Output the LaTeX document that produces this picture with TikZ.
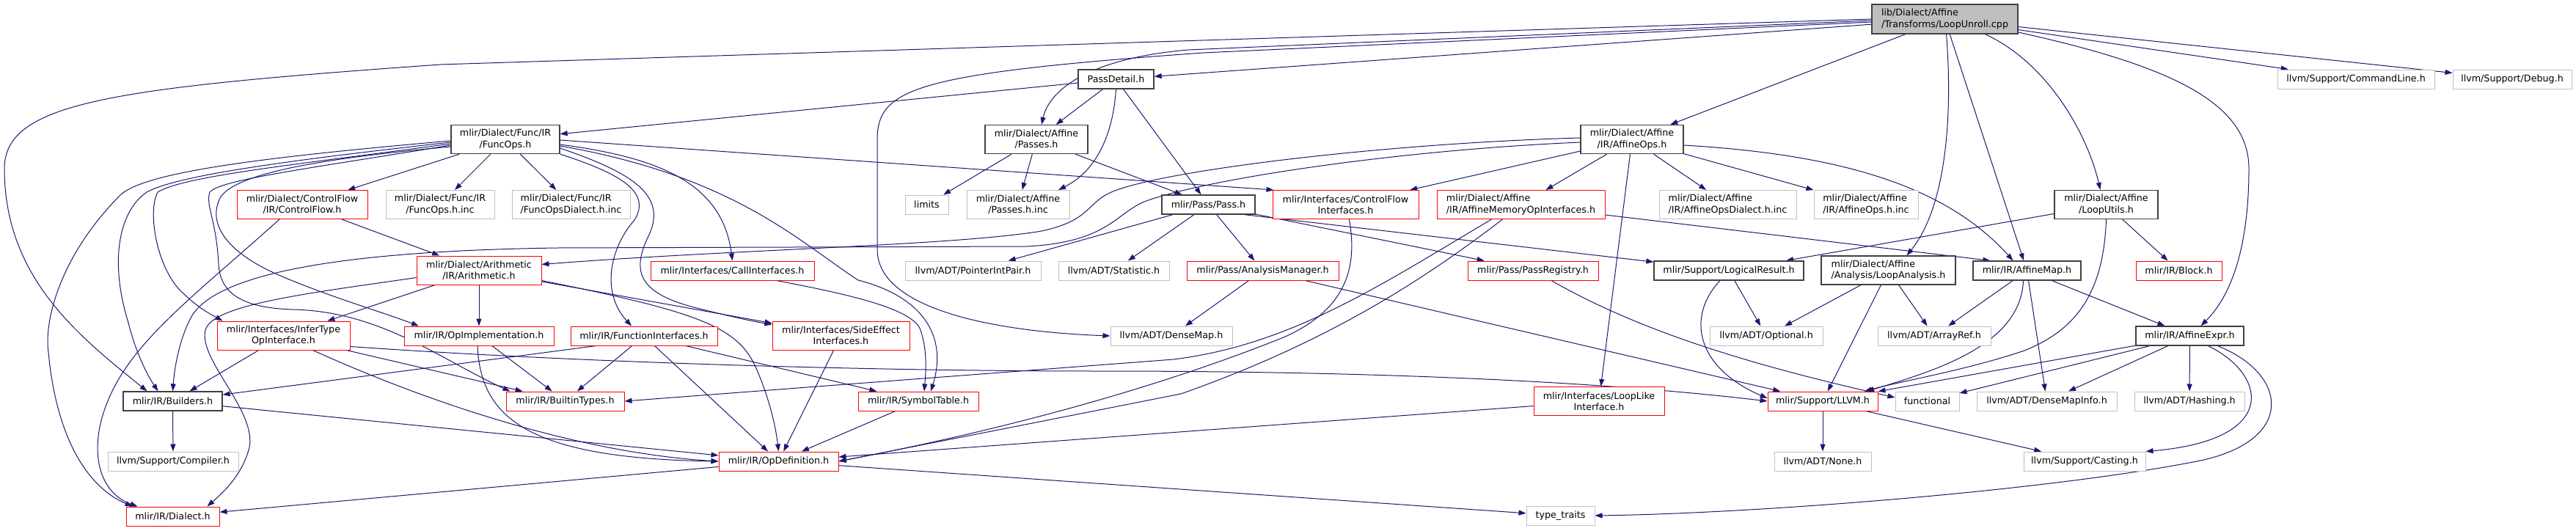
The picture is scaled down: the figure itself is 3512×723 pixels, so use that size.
\documentclass[tikz,border=0pt]{standalone}
\usepackage{fontspec}
\setmainfont{DejaVu Sans}
\usetikzlibrary{arrows.meta}
\definecolor{edgeblue}{HTML}{191970}
\definecolor{boxgray}{HTML}{BFBFBF}
\definecolor{boxdark}{HTML}{404040}
\definecolor{boxred}{HTML}{FF0000}
\pgfdeclarelayer{edges}
\pgfsetlayers{edges,main}

\begin{document}
\begin{tikzpicture}[x=1pt,y=-1pt]
        \tikzset{
          file/.style={rectangle, draw, fill=white, inner sep=0pt, align=center,
            minimum height=26pt, font=\fontsize{12.7}{15.2}\selectfont},
          tall/.style={minimum height=39pt},
          redfile/.style={file, draw=boxred, line width=1pt},
          grayfile/.style={file, draw=boxgray, line width=1pt},
          blackfile/.style={file, draw=boxdark, line width=1.3pt},
          rootfile/.style={blackfile, fill=boxgray},
          incl/.style={draw=edgeblue, line width=1pt, -{Triangle[length=10pt,width=7pt]}}
        }
        \useasboundingbox (0,0) rectangle (3512,723);
        \node[rootfile, align=left, minimum width=199pt, minimum height=40pt] (root) at (2651.5,26) {lib/Dialect/Affine\\/Transforms/LoopUnroll.cpp};
        \node[blackfile, minimum width=103pt] (passdetail) at (1521.5,108) {PassDetail.h};
        \node[grayfile, minimum width=214pt] (cmdline) at (3212,108) {llvm/Support/CommandLine.h};
        \node[grayfile, minimum width=162pt] (debug) at (3425,108) {llvm/Support/Debug.h};
        \node[blackfile, tall, minimum width=148pt] (funcops) at (689,190) {mlir/Dialect/Func/IR\\/FuncOps.h};
        \node[blackfile, tall, minimum width=140pt] (affpasses) at (1413,190) {mlir/Dialect/Affine\\/Passes.h};
        \node[blackfile, tall, minimum width=140pt] (affineops) at (2225,190) {mlir/Dialect/Affine\\/IR/AffineOps.h};
        \node[redfile, tall, minimum width=178pt] (controlflow) at (412,279) {mlir/Dialect/ControlFlow\\/IR/ControlFlow.h};
        \node[grayfile, tall, minimum width=148pt] (funcopsinc) at (600,279) {mlir/Dialect/Func/IR\\/FuncOps.h.inc};
        \node[grayfile, tall, align=left, minimum width=161pt] (funcopsdialinc) at (778.5,279) {mlir/Dialect/Func/IR\\/FuncOpsDialect.h.inc};
        \node[grayfile, minimum width=59pt] (limits) at (1263.5,279) {limits};
        \node[grayfile, tall, minimum width=140pt] (passesinc) at (1388,279) {mlir/Dialect/Affine\\/Passes.h.inc};
        \node[blackfile, minimum width=127pt] (pass) at (1647.5,279) {mlir/Pass/Pass.h};
        \node[redfile, tall, minimum width=199pt] (cfinterfaces) at (1834.5,279) {mlir/Interfaces/ControlFlow\\Interfaces.h};
        \node[redfile, tall, align=left, minimum width=229pt] (affmemop) at (2073.5,279) {mlir/Dialect/Affine\\/IR/AffineMemoryOpInterfaces.h};
        \node[grayfile, tall, align=left, minimum width=187pt] (affopsdialinc) at (2355.5,279) {mlir/Dialect/Affine\\/IR/AffineOpsDialect.h.inc};
        \node[grayfile, tall, align=left, minimum width=142pt] (affopsinc) at (2544,279) {mlir/Dialect/Affine\\/IR/AffineOps.h.inc};
        \node[blackfile, tall, minimum width=141pt] (looputils) at (2871.5,279) {mlir/Dialect/Affine\\/LoopUtils.h};
        \node[redfile, tall, minimum width=170pt] (arith) at (653,368.5) {mlir/Dialect/Arithmetic\\/IR/Arithmetic.h};
        \node[redfile, minimum width=223pt] (callif) at (998.5,369) {mlir/Interfaces/CallInterfaces.h};
        \node[grayfile, minimum width=185pt] (ptrintpair) at (1326.5,369) {llvm/ADT/PointerIntPair.h};
        \node[grayfile, minimum width=151pt] (statistic) at (1518.5,369) {llvm/ADT/Statistic.h};
        \node[redfile, minimum width=207pt] (analysismgr) at (1721.5,369) {mlir/Pass/AnalysisManager.h};
        \node[redfile, minimum width=178pt] (passregistry) at (2090,369) {mlir/Pass/PassRegistry.h};
        \node[blackfile, minimum width=204pt] (logicalresult) at (2357,369) {mlir/Support/LogicalResult.h};
        \node[blackfile, tall, align=left, minimum width=183pt] (loopanalysis) at (2574.5,368.5) {mlir/Dialect/Affine\\/Analysis/LoopAnalysis.h};
        \node[blackfile, minimum width=147pt] (affinemap) at (2763.5,369) {mlir/IR/AffineMap.h};
        \node[redfile, minimum width=117pt] (block) at (2970.5,369) {mlir/IR/Block.h};
        \node[redfile, tall, minimum width=181pt] (infertype) at (386.5,457.5) {mlir/Interfaces/InferType\\OpInterface.h};
        \node[redfile, minimum width=204pt] (opimpl) at (653,458) {mlir/IR/OpImplementation.h};
        \node[redfile, minimum width=200pt] (funcif) at (878,458) {mlir/IR/FunctionInterfaces.h};
        \node[redfile, tall, minimum width=187pt] (sideeffect) at (1146.5,457.5) {mlir/Interfaces/SideEffect\\Interfaces.h};
        \node[grayfile, minimum width=166pt] (densemap) at (1597,458) {llvm/ADT/DenseMap.h};
        \node[grayfile, minimum width=154pt] (optional) at (2408,458) {llvm/ADT/Optional.h};
        \node[grayfile, minimum width=154pt] (arrayref) at (2637,458) {llvm/ADT/ArrayRef.h};
        \node[blackfile, minimum width=147pt] (affineexpr) at (2985.5,458) {mlir/IR/AffineExpr.h};
        \node[blackfile, minimum width=135pt] (builders) at (235.5,547) {mlir/IR/Builders.h};
        \node[redfile, minimum width=161pt] (builtintypes) at (770.5,547) {mlir/IR/BuiltinTypes.h};
        \node[redfile, minimum width=164pt] (symboltable) at (1252,547) {mlir/IR/SymbolTable.h};
        \node[redfile, tall, minimum width=178pt] (looplike) at (2180,547) {mlir/Interfaces/LoopLike\\Interface.h};
        \node[redfile, minimum width=150pt] (llvm) at (2485,547) {mlir/Support/LLVM.h};
        \node[grayfile, minimum width=87pt] (functional) at (2627.5,547) {functional};
        \node[grayfile, minimum width=191pt] (densemapinfo) at (2790.5,547) {llvm/ADT/DenseMapInfo.h};
        \node[grayfile, minimum width=150pt] (hashing) at (2985,547) {llvm/ADT/Hashing.h};
        \node[grayfile, minimum width=178pt] (compiler) at (236,629) {llvm/Support/Compiler.h};
        \node[redfile, minimum width=163pt] (opdef) at (1061.5,629) {mlir/IR/OpDefinition.h};
        \node[grayfile, minimum width=132pt] (adtnone) at (2485,629) {llvm/ADT/None.h};
        \node[grayfile, minimum width=166pt] (casting) at (2842,629) {llvm/Support/Casting.h};
        \node[redfile, minimum width=127pt] (dialect) at (235.5,704) {mlir/IR/Dialect.h};
        \node[grayfile, minimum width=93pt] (typetraits) at (2127.5,703) {type\_traits};
        \begin{pgfonlayer}{edges}
        \draw[incl] (root.west) -- (600,88) .. controls (150,120) and (6,140) .. (6,230) .. controls (6,380) and (110,460) .. ([xshift=-35pt]builders.north);
        \draw[incl] (root) -- (passdetail);
        \draw[incl] ([yshift=-2pt]root.west) -- (1620,68) .. controls (1480,80) and (1430,125) .. ([xshift=7pt]affpasses.north);
        \draw[incl] ([yshift=-4pt]root.west) -- (1640,72) .. controls (1250,100) and (1196,120) .. (1196,190) -- (1196,340) .. controls (1196,420) and (1350,452) .. (densemap.west);
        \draw[incl] (root) -- (affineops);
        \draw[incl] ([xshift=2pt]root.south) .. controls (2662,150) and (2655,280) .. ([xshift=25pt]loopanalysis.north);
        \draw[incl] (root) -- (affinemap);
        \draw[incl] ([xshift=55pt]root.south) .. controls (2790,85) and (2845,180) .. ([xshift=-8pt]looputils.north);
        \draw[incl] ([yshift=-18pt]root.east) .. controls (2960,90) and (3066,140) .. (3066,230) .. controls (3066,330) and (3045,400) .. ([xshift=15pt]affineexpr.north);
        \draw[incl] (root) -- (cmdline);
        \draw[incl] (root) -- (debug);
        \draw[incl] (passdetail) -- (funcops);
        \draw[incl] (passdetail) -- (affpasses);
        \draw[incl] (passdetail.south) .. controls (1518,175) and (1500,230) .. ([xshift=55pt]passesinc.north);
        \draw[incl] (passdetail) -- (pass);
        \draw[incl] (affpasses) -- (limits);
        \draw[incl] (affpasses) -- (passesinc);
        \draw[incl] (affpasses) -- (pass);
        \draw[incl] (funcops) -- (controlflow);
        \draw[incl] (funcops) -- (funcopsinc);
        \draw[incl] (funcops) -- (funcopsdialinc);
        \draw[incl] ([yshift=-2pt]funcops.west) .. controls (350,215) and (200,235) .. (165,265) .. controls (80,350) and (60,440) .. (66,480) .. controls (75,580) and (110,660) .. ([xshift=-55pt]dialect.north);
        \draw[incl] ([yshift=-4pt]funcops.west) .. controls (380,220) and (240,240) .. (200,262) .. controls (160,290) and (150,360) .. (175,440) .. controls (185,480) and (200,510) .. ([xshift=-20pt]builders.north);
        \draw[incl] ([yshift=-6pt]funcops.west) .. controls (400,225) and (250,240) .. (215,262) .. controls (200,290) and (215,370) .. (250,400) .. controls (270,420) and (290,430) .. ([xshift=-83pt]infertype.north);
        \draw[incl] ([yshift=-8pt]funcops.west) .. controls (420,230) and (300,245) .. (286,262) .. controls (280,280) and (295,300) .. (298,360) .. controls (300,400) and (330,420) .. (400,422) .. controls (520,425) and (600,490) .. ([xshift=-75pt]builtintypes.north);
        \draw[incl] ([yshift=-10pt]funcops.west) .. controls (450,215) and (320,235) .. (300,270) .. controls (285,300) and (300,340) .. (380,375) .. controls (450,405) and (520,425) .. ([xshift=-82pt]opimpl.north);
        \draw[incl] ([yshift=-1pt]funcops.east) -- ([xshift=2pt]cfinterfaces.north west);
        \draw[incl] ([yshift=-7pt]funcops.east) .. controls (900,215) and (985,250) .. (callif.north);
        \draw[incl] ([yshift=-9pt]funcops.east) .. controls (1000,240) and (1090,330) .. (1170,382) .. controls (1260,405) and (1292,460) .. ([xshift=17pt]symboltable.north);
        \draw[incl] ([yshift=-12pt]funcops.east) .. controls (860,235) and (910,265) .. (885,320) .. controls (860,370) and (870,400) .. (950,420) .. controls (990,430) and (1020,437) .. ([yshift=15pt]sideeffect.west);
        \draw[incl] (funcops.south east) .. controls (840,235) and (890,260) .. (865,300) .. controls (830,340) and (820,400) .. ([xshift=-17pt]funcif.north);
        \draw[incl] (controlflow) -- (arith);
        \draw[incl] ([xshift=-31pt]controlflow.south) .. controls (280,390) and (200,450) .. (160,520) .. controls (115,600) and (130,670) .. ([xshift=-48pt]dialect.north);
        \draw[incl] (arith) -- (infertype);
        \draw[incl] (arith) -- (opimpl);
        \draw[incl] (arith) -- (sideeffect);
        \draw[incl] ([yshift=-10pt]arith.west) .. controls (420,400) and (290,415) .. (280,450) .. controls (270,490) and (350,560) .. (340,610) .. controls (330,650) and (300,675) .. ([xshift=47pt]dialect.north);
        \draw[incl] ([yshift=-14pt]arith.east) .. controls (950,425) and (1005,445) .. (1030,500) .. controls (1050,545) and (1058,585) .. (opdef.north);
        \draw[incl] ([yshift=2pt]affineops.west) .. controls (1900,195) and (1600,230) .. (1520,260) .. controls (1480,275) and (1490,300) .. (1420,315) .. controls (1300,335) and (1000,340) .. ([yshift=8pt]arith.east);
        \draw[incl] ([yshift=-4pt]affineops.west) .. controls (1900,205) and (1640,245) .. (1560,275) .. controls (1520,292) and (1510,330) .. (1400,336) -- (760,338) .. controls (480,342) and (300,370) .. (262,430) .. controls (245,460) and (238,500) .. (builders.north);
        \draw[incl] (affineops) -- (cfinterfaces);
        \draw[incl] (affineops) -- (affmemop);
        \draw[incl] (affineops) -- (looplike);
        \draw[incl] (affineops) -- (affopsdialinc);
        \draw[incl] (affineops) -- (affopsinc);
        \draw[incl] ([yshift=-8pt]affineops.east) .. controls (2500,210) and (2650,250) .. ([xshift=-19pt]affinemap.north);
        \draw[incl] ([yshift=-14pt]affmemop.east) -- ([xshift=24pt]affinemap.north west);
        \draw[incl] ([xshift=-40pt]affmemop.south) .. controls (1880,390) and (1760,470) .. (1600,490) -- (builtintypes.east);
        \draw[incl] ([xshift=-25pt]affmemop.south) .. controls (1930,390) and (1800,470) .. (1610,537) -- (opdef.east);
        \draw[incl] ([xshift=5pt]cfinterfaces.south) .. controls (1850,360) and (1840,420) .. (1750,460) .. controls (1600,520) and (1400,580) .. (opdef.east);
        \draw[incl] (looplike) -- (opdef);
        \draw[incl] (pass) -- (ptrintpair);
        \draw[incl] (pass) -- (statistic);
        \draw[incl] (pass) -- (analysismgr);
        \draw[incl] (pass) -- (passregistry);
        \draw[incl] ([xshift=-15pt]pass.south east) -- (logicalresult);
        \draw[incl] (analysismgr) -- (densemap);
        \draw[incl] (analysismgr) -- (llvm);
        \draw[incl] ([xshift=25pt]passregistry.south) .. controls (2250,460) and (2420,505) .. ([yshift=5pt]functional.west);
        \draw[incl] (logicalresult) -- (optional);
        \draw[incl] ([xshift=-12pt]logicalresult.south) .. controls (2300,430) and (2310,500) .. ([yshift=4pt]llvm.west);
        \draw[incl] (loopanalysis) -- (optional);
        \draw[incl] (loopanalysis) -- (arrayref);
        \draw[incl] (loopanalysis) -- (llvm);
        \draw[incl] (affinemap) -- (arrayref);
        \draw[incl] ([xshift=-5pt]affinemap.south) .. controls (2755,470) and (2640,505) .. ([xshift=60pt]llvm.north);
        \draw[incl] (affinemap) -- (densemapinfo);
        \draw[incl] (affinemap) -- (affineexpr);
        \draw[incl] (looputils) -- (logicalresult);
        \draw[incl] (looputils.south) .. controls (2868,400) and (2830,450) .. (2760,478) .. controls (2680,505) and (2590,520) .. ([xshift=57pt]llvm.north);
        \draw[incl] (looputils) -- (block);
        \draw[incl] (affineexpr) -- (llvm);
        \draw[incl] (affineexpr) -- (functional);
        \draw[incl] (affineexpr) -- (densemapinfo);
        \draw[incl] (affineexpr) -- (hashing);
        \draw[incl] ([xshift=25pt]affineexpr.south) .. controls (3090,510) and (3110,600) .. (casting.north east);
        \draw[incl] ([xshift=38pt]affineexpr.south) .. controls (3120,510) and (3130,600) .. (3000,628) .. controls (2800,668) and (2400,700) .. (typetraits.east);
        \draw[incl] (llvm) -- (adtnone);
        \draw[incl] (llvm) -- (casting);
        \draw[incl] (builders) -- (compiler);
        \draw[incl] (builders) -- (opdef);
        \draw[incl] (infertype) -- (builders);
        \draw[incl] (infertype) -- (builtintypes);
        \draw[incl] ([xshift=40pt]infertype.south) .. controls (520,520) and (750,615) .. (opdef.west);
        \draw[incl] ([yshift=-15pt]infertype.east) .. controls (800,495) and (1200,506) .. (1500,506) .. controls (1900,506) and (2200,522) .. (llvm.west);
        \draw[incl] (opimpl) -- (builtintypes);
        \draw[incl] ([xshift=-2pt]opimpl.south) .. controls (655,570) and (720,625) .. (opdef.west);
        \draw[incl] ([xshift=-65pt]funcif.south) -- (builders);
        \draw[incl] (funcif) -- (builtintypes);
        \draw[incl] (funcif) -- (opdef);
        \draw[incl] (funcif) -- (symboltable);
        \draw[incl] (sideeffect) -- (opdef);
        \draw[incl] (symboltable) -- (opdef);
        \draw[incl] ([xshift=60pt]callif.south) .. controls (1150,400) and (1245,420) .. (1255,450) .. controls (1265,480) and (1262,510) .. ([xshift=8pt]symboltable.north);
        \draw[incl] (opdef) -- (dialect);
        \draw[incl] (opdef) -- (typetraits);
        \end{pgfonlayer}
    \end{tikzpicture}
\end{document}
